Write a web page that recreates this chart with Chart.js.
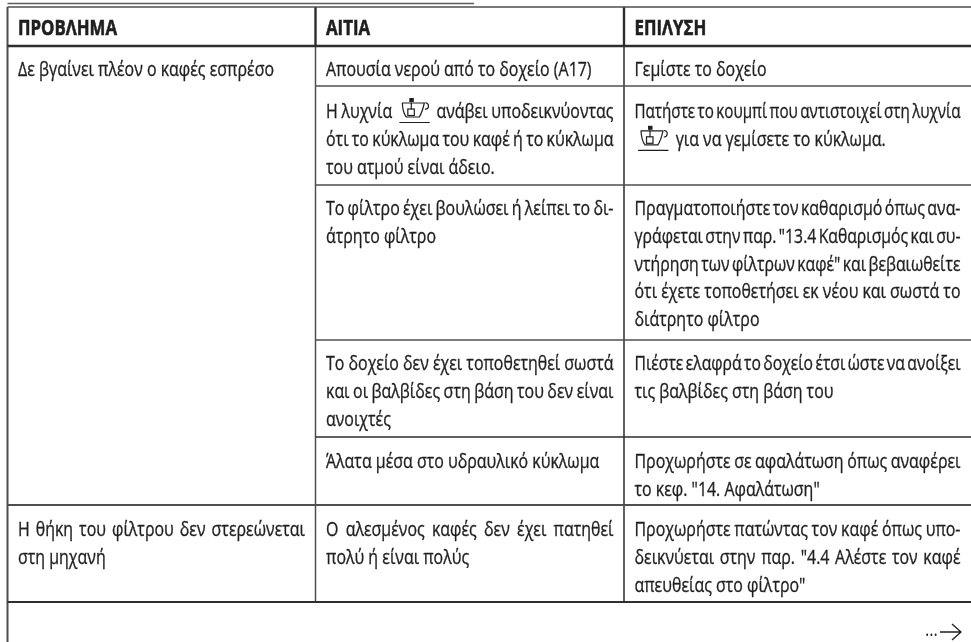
<!DOCTYPE html>
<html lang="el">
<head>
<meta charset="utf-8">
<title>Πρόβλημα, Αιτία, Επίλυση</title>
<style>html,body{margin:0;padding:0;background:#fff}canvas{display:block}</style>
<script src="https://cdn.jsdelivr.net/npm/chart.js@4"></script>
</head>
<body>
<canvas id="c" width="971" height="642"></canvas>
<script>
const columnEdges = [7.5, 315.5, 624, 971];
const rowEdges = [7, 46, 86, 185, 340, 437, 505, 602, 642];
const topRuleEnd = 474;
const topRuleY = 3.5;
const headerLabels = ["ΠΡΟΒΛΗΜΑ", "ΑΙΤΙΑ", "ΕΠΙΛΥΣΗ"];
const problemLines = [
  [0, "Δε βγαίνει πλέον ο καφές εσπρέσο"],
  [5, "Η θήκη του φίλτρου δεν στερεώνεται", "στη μηχανή"]
];
const causeLines = [
  [0, "Απουσία νερού από το δοχείο (Α17)"],
  [1, "Η λυχνία {cup} ανάβει υποδεικνύοντας", "ότι το κύκλωμα του καφέ ή το κύκλωμα", "του ατμού είναι άδειο."],
  [2, "Το φίλτρο έχει βουλώσει ή λείπει το δι-", "άτρητο φίλτρο"],
  [3, "Το δοχείο δεν έχει τοποθετηθεί σωστά", "και οι βαλβίδες στη βάση του δεν είναι", "ανοιχτές"],
  [4, "Άλατα μέσα στο υδραυλικό κύκλωμα"],
  [5, "Ο αλεσμένος καφές δεν έχει πατηθεί", "πολύ ή είναι πολύς"]
];
const solutionLines = [
  [0, "Γεμίστε το δοχείο"],
  [1, "Πατήστε το κουμπί που αντιστοιχεί στη λυχνία", "{cup} για να γεμίσετε το κύκλωμα."],
  [2, "Πραγματοποιήστε τον καθαρισμό όπως ανα-", "γράφεται στην παρ. \"13.4 Καθαρισμός και συ-", "ντήρηση των φίλτρων καφέ\" και βεβαιωθείτε", "ότι έχετε τοποθετήσει εκ νέου και σωστά το", "διάτρητο φίλτρο"],
  [3, "Πιέστε ελαφρά το δοχείο έτσι ώστε να ανοίξει", "τις βαλβίδες στη βάση του"],
  [4, "Προχωρήστε σε αφαλάτωση όπως αναφέρει", "το κεφ. \"14. Αφαλάτωση\""],
  [5, "Προχωρήστε πατώντας τον καφέ όπως υπο-", "δεικνύεται στην παρ. \"4.4 Αλέστε τον καφέ", "απευθείας στο φίλτρο\""]
];
const justifiedLines = [
  "Η θήκη του φίλτρου δεν στερεώνεται",
  "Η λυχνία {cup} ανάβει υποδεικνύοντας",
  "ότι το κύκλωμα του καφέ ή το κύκλωμα",
  "Το φίλτρο έχει βουλώσει ή λείπει το δι-",
  "Το δοχείο δεν έχει τοποθετηθεί σωστά",
  "και οι βαλβίδες στη βάση του δεν είναι",
  "Ο αλεσμένος καφές δεν έχει πατηθεί",
  "Πατήστε το κουμπί που αντιστοιχεί στη λυχνία",
  "Πραγματοποιήστε τον καθαρισμό όπως ανα-",
  "γράφεται στην παρ. \"13.4 Καθαρισμός και συ-",
  "ντήρηση των φίλτρων καφέ\" και βεβαιωθείτε",
  "ότι έχετε τοποθετήσει εκ νέου και σωστά το",
  "Πιέστε ελαφρά το δοχείο έτσι ώστε να ανοίξει",
  "Προχωρήστε σε αφαλάτωση όπως αναφέρει",
  "Προχωρήστε πατώντας τον καφέ όπως υπο-",
  "δεικνύεται στην παρ. \"4.4 Αλέστε τον καφέ"
];
const continuationMark = "...";

const BODY_FONT = '20.5px "Open Sans", sans-serif';
const HEAD_FONT = 'bold 21px "Open Sans", sans-serif';
const INK = '#1f1f1f';
const LINE_H = 27.8;
const PAD_L = 10.5, PAD_R = 10.5;
const FIRST_BASE = [30, 32, 30, 30, 31, 31];
const CUP_W = 37;

function hRule(y, x0, x1, w, c) {
  return {data: [{x: x0, y}, {x: x1, y}], borderColor: c, borderWidth: w, pointRadius: 0, showLine: true, tension: 0};
}
function vRule(x, y0, y1, w, c) {
  return {data: [{x, y: y0}, {x, y: y1}], borderColor: c, borderWidth: w, pointRadius: 0, showLine: true, tension: 0};
}
const GRAY = '#4f4f4f', DARK = '#2e2e2e';
const [c0, c1, c2, c3] = columnEdges;
const [r0, r1, r2, r3, r4, r5, r6, r7, r8] = rowEdges;
const rules = [
  hRule(topRuleY, c0, topRuleEnd, 1.6, '#5e5e5e'),
  hRule(r0, c0, c3, 1.6, GRAY),
  hRule(r1, c0, c3, 2.4, DARK),
  hRule(r2, c1, c3, 1.5, GRAY),
  hRule(r3, c1, c3, 1.5, GRAY),
  hRule(r4, c1, c3, 1.5, GRAY),
  hRule(r5, c1, c3, 1.6, DARK),
  hRule(r6, c0, c3, 1.8, GRAY),
  hRule(r7, c0, c3, 1.8, DARK),
  vRule(c0, r0, r8, 2, GRAY),
  vRule(c1, r0, r1, 2.4, DARK),
  vRule(c2, r0, r1, 2.4, DARK),
  vRule(c1, r1, r7, 1.5, GRAY),
  vRule(c2, r1, r7, 1.8, GRAY)
];

function drawCup(ctx, x, base) {
  ctx.save();
  ctx.strokeStyle = INK; ctx.lineWidth = 1.2; ctx.lineCap = 'round';
  ctx.beginPath();
  ctx.moveTo(x + 3, base - 15);
  ctx.quadraticCurveTo(x + 3.5, base - 5, x + 7, base - 1);
  ctx.lineTo(x + 20, base - 1);
  ctx.quadraticCurveTo(x + 23, base - 6, x + 25, base - 15);
  ctx.lineTo(x + 3, base - 15);
  ctx.stroke();
  ctx.beginPath();
  ctx.arc(x + 26, base - 12, 3.2, -1.4, 1.5);
  ctx.stroke();
  ctx.strokeRect(x + 8.5, base - 9, 6.5, 6.5);
  ctx.beginPath();
  ctx.moveTo(x + 12, base - 15); ctx.lineTo(x + 12, base - 9); ctx.stroke();
  ctx.fillStyle = INK; ctx.fillRect(x + 10, base - 20, 4.5, 4);
  ctx.beginPath(); ctx.moveTo(x + 0.5, base + 4.5); ctx.lineTo(x + 30, base + 4.5); ctx.stroke();
  ctx.restore();
}

function drawLine(ctx, str, left, right, base, sx) {
  const parts = str.split(' ');
  const unit = p => p === '{cup}' ? CUP_W : ctx.measureText(p).width * sx;
  const widths = parts.map(unit);
  const total = widths.reduce((a, b) => a + b, 0);
  const natural = ctx.measureText(' ').width * sx;
  const isJ = justifiedLines.includes(str) && parts.length > 1;
  let gap = natural, k = 1;
  if (isJ) {
    gap = (right - left - total) / (parts.length - 1);
    if (gap < 2.4) {
      gap = 2.4;
      k = (right - left - gap * (parts.length - 1)) / total;
    }
  }
  let x = left;
  parts.forEach((p, i) => {
    if (p === '{cup}') {
      drawCup(ctx, x + 3.5, base);
    } else {
      ctx.save();
      ctx.translate(x, base);
      ctx.scale(sx * k, 1);
      ctx.fillText(p, 0, 0);
      ctx.lineWidth = 0.35;
      ctx.strokeStyle = INK;
      ctx.strokeText(p, 0, 0);
      ctx.restore();
    }
    x += widths[i] * k + gap;
  });
}

const tablePlugin = {
  id: 'tableText',
  afterDatasetsDraw(chart) {
    const ctx = chart.ctx, X = chart.scales.x, Y = chart.scales.y;
    ctx.save();
    ctx.fillStyle = INK;
    ctx.textBaseline = 'alphabetic';
    ctx.textAlign = 'left';
    ctx.font = BODY_FONT;
    const sx = 256 / ctx.measureText(problemLines[0][1]).width;
    [problemLines, causeLines, solutionLines].forEach((col, ci) => {
      const left = X.getPixelForValue(columnEdges[ci] + PAD_L);
      const right = X.getPixelForValue(columnEdges[ci + 1] - PAD_R);
      col.forEach(cell => {
        const ri = cell[0];
        cell.slice(1).forEach((ln, li) => {
          const base = Y.getPixelForValue(rowEdges[ri + 1] + FIRST_BASE[ri] + li * LINE_H);
          drawLine(ctx, ln, left, right, base, sx);
        });
      });
    });
    ctx.font = HEAD_FONT;
    const hx = 99 / ctx.measureText(headerLabels[0]).width;
    headerLabels.forEach((h, ci) => {
      ctx.save();
      ctx.translate(X.getPixelForValue(columnEdges[ci] + PAD_L), Y.getPixelForValue(rowEdges[0] + 28));
      ctx.scale(hx, 1);
      ctx.fillText(h, 0, 0);
      ctx.lineWidth = 0.6;
      ctx.strokeStyle = INK;
      ctx.strokeText(h, 0, 0);
      ctx.restore();
    });
    ctx.font = BODY_FONT;
    const ax = X.getPixelForValue(925), ay = Y.getPixelForValue(632);
    ctx.save();
    ctx.translate(ax, ay + 4);
    ctx.scale(0.8, 1);
    ctx.fillText(continuationMark, 0, 0);
    ctx.restore();
    ctx.strokeStyle = INK; ctx.lineWidth = 1.3;
    ctx.beginPath();
    ctx.moveTo(ax + 15, ay); ctx.lineTo(ax + 36, ay);
    ctx.moveTo(ax + 27, ay - 8); ctx.lineTo(ax + 36, ay); ctx.lineTo(ax + 27, ay + 8);
    ctx.stroke();
    ctx.restore();
  }
};

new Chart(document.getElementById('c'), {
  type: 'scatter',
  data: {datasets: rules},
  options: {
    responsive: false,
    animation: false,
    layout: {padding: 0},
    plugins: {legend: {display: false}, tooltip: {enabled: false}, title: {display: false}},
    scales: {
      x: {type: 'linear', display: false, min: 0, max: 971},
      y: {type: 'linear', display: false, min: 0, max: 642, reverse: true}
    }
  },
  plugins: [tablePlugin]
});
</script>
</body>
</html>
